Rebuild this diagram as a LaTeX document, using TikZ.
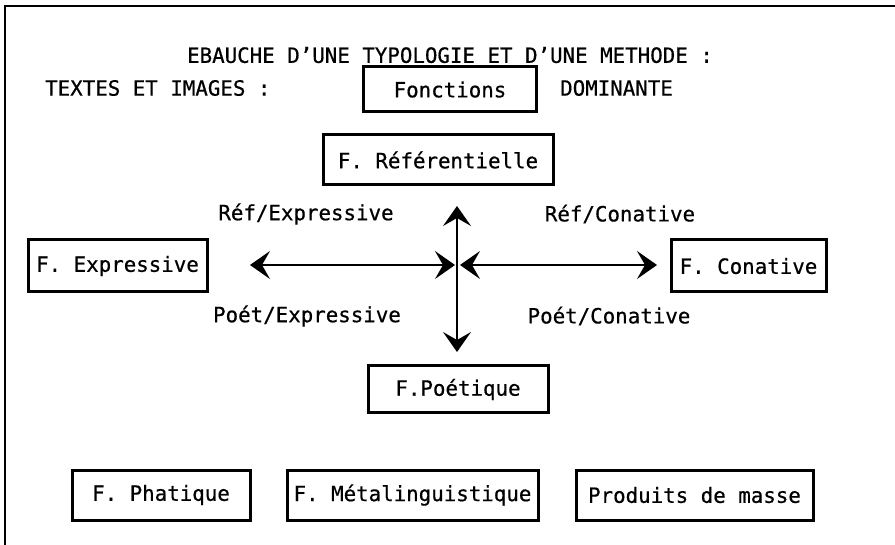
\documentclass[tikz,border=0pt]{standalone}
\usepackage{fontspec}
\setmainfont{DejaVu Sans Mono}[FakeStretch=0.99,FakeBold=0.6]
\usetikzlibrary{arrows.meta}
\tikzset{
  fbox/.style={draw, line width=3pt, inner sep=2pt, align=center},
  lbl/.style={inner sep=0pt},
  dart/.style={line width=1.4pt, {Stealth[length=20pt,width=28pt,inset=8pt]}-{Stealth[length=20pt,width=28pt,inset=8pt]}},
}
\begin{document}
\begin{tikzpicture}[x=1pt,y=-1pt,font=\fontsize{21}{23}\selectfont]
\useasboundingbox (0,0) rectangle (895,545);
% open frame: top and left edges only
\draw[line width=2pt] (5,545) -- (5,6) -- (895,6);

\node[lbl] (title) at (450,55) {EBAUCHE D'UNE TYPOLOGIE ET D'UNE METHODE :};
\node[lbl,anchor=west] (texts) at (45,88) {TEXTES ET IMAGES :};
\node[fbox,minimum width=173pt,minimum height=45pt] (fonc) at (450,89.5) {Fonctions};
\node[lbl,anchor=west] (dom) at (560,88) {DOMINANTE};

\node[fbox,minimum width=230pt,minimum height=50pt] (ref) at (438,160) {F. Référentielle};
\node[fbox,minimum width=179pt,minimum height=52pt] (expr) at (117.5,266) {F. Expressive};
\node[fbox,minimum width=155pt,minimum height=52pt] (con) at (748.5,266) {F. Conative};
\node[fbox,minimum width=180pt,minimum height=47pt] (poet) at (458,389.5) {F.Poétique};

\node[lbl] (re) at (306,214) {Réf/Expressive};
\node[lbl] (rc) at (620,214) {Réf/Conative};
\node[lbl] (pe) at (307,316) {Poét/Expressive};
\node[lbl] (pc) at (609,316) {Poét/Conative};

\node[fbox,minimum width=178pt,minimum height=50pt] (phat) at (161,495) {F. Phatique};
\node[fbox,minimum width=251pt,minimum height=50pt] (meta) at (412.5,495) {F. Métalinguistique};
\node[fbox,minimum width=237pt,minimum height=50pt] (prod) at (694.5,495) {Produits de masse};

% axes between the functions
\coordinate (wl) at (250,265);
\coordinate (cl) at (455,265);
\coordinate (cr) at (460,265);
\coordinate (er) at (657,265);
\coordinate (vt) at (457,206);
\coordinate (vb) at (457,352);
\draw[dart] (wl) -- (cl);
\draw[dart] (cr) -- (er);
\draw[dart] (vt) -- (vb);
\end{tikzpicture}
\end{document}
